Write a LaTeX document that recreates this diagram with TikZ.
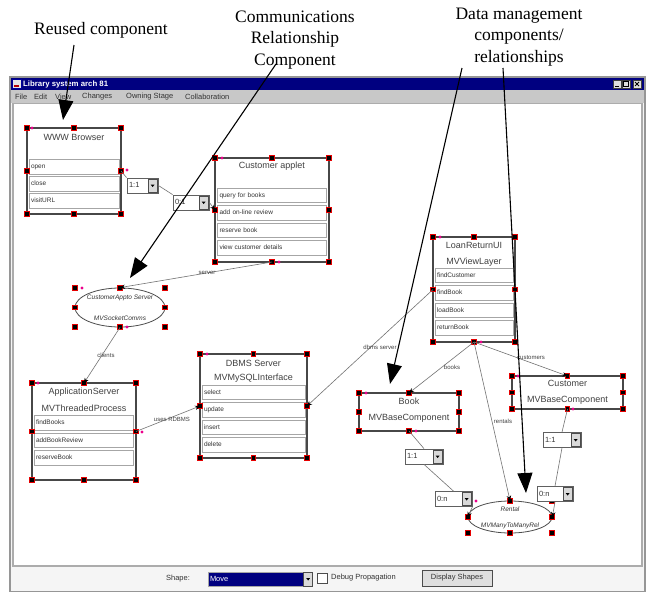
\documentclass[tikz,border=0pt]{standalone}
\usepackage{fontspec}
\setmainfont{Liberation Serif}
\setsansfont{Liberation Sans}
\usetikzlibrary{arrows.meta,shapes.geometric}
\definecolor{navy}{RGB}{0,0,128}
\definecolor{menugray}{RGB}{200,200,200}
\definecolor{framegray}{RGB}{150,150,150}
\newcommand\handles[1]{%
  \foreach \a [count=\i] in {north west,north,north east,west,east,south west,south,south east}
    \node[handle] (#1-h\i) at (#1.\a) {};}
\begin{document}
\begin{tikzpicture}[x=1pt,y=-1pt,
  comp/.style={rectangle, draw=black!72, line width=1.6pt, fill=white, inner sep=0pt, outer sep=0pt},
  ctitle/.style={font=\sffamily\fontsize{9}{10}\selectfont, text=black!75, inner sep=0pt},
  crow/.style={rectangle, draw=gray!70, line width=1pt, fill=white, inner xsep=2pt, inner ysep=0pt,
    outer sep=0pt, text width=#1, align=left, minimum height=14.5pt, text height=5pt, text depth=1.5pt,
    font=\sffamily\fontsize{6.5}{7}\selectfont, text=black!80},
  oval/.style={ellipse, draw=gray!60!black, line width=0.8pt, fill=white, inner sep=0pt},
  bbox/.style={rectangle, inner sep=0pt, outer sep=0pt},
  otext/.style={font=\sffamily\itshape\fontsize{6.5}{7}\selectfont, text=black!80, inner sep=0pt},
  handle/.style={rectangle, fill=black, draw=red!90!black, line width=0.9pt, minimum size=4.5pt, inner sep=0pt},
  magdot/.style={circle, fill=magenta, minimum size=3.2pt, inner sep=0pt},
  combo/.style={rectangle, draw=gray!75!black, line width=0.8pt, fill=white, inner xsep=2pt, inner ysep=0pt,
    minimum height=15pt, text width=#1, align=left, text height=5.5pt, text depth=1.5pt,
    font=\sffamily\fontsize{7.5}{8}\selectfont, text=black!80},
  cbtn/.style={rectangle, fill=gray!30, draw=gray!60!black, line width=0.5pt, minimum width=9pt,
    minimum height=13pt, inner sep=0pt, anchor=east},
  conn/.style={draw=black!55, line width=0.6pt},
  arr/.style={-{Stealth[length=5pt,width=4.5pt,black]}},
  clabel/.style={font=\sffamily\fontsize{6}{6}\selectfont, text=black!75, inner sep=0.5pt},
  anntext/.style={font=\fontsize{17.5}{21.5}\selectfont, align=center, inner sep=0pt},
  annarrow/.style={draw=black, line width=1.1pt, -{Triangle[length=20pt,width=15pt]}},
  menu/.style={font=\sffamily\fontsize{7.5}{7.5}\selectfont, text=black!80, inner sep=0pt, anchor=west},
  wbtn/.style={rectangle, fill=gray!25, draw=gray!50!black, line width=0.5pt, minimum width=8pt, minimum height=8pt, inner sep=0pt},
  guitext/.style={font=\sffamily\fontsize{7.5}{8}\selectfont, text=black!80, inner sep=0pt}
]
\useasboundingbox (0,0) rectangle (654,592);
\fill[white] (0,0) rectangle (654,592);

% ---------- application window ----------
\fill[gray!8] (10,77) rectangle (645,592);
\fill[white] (13,103) rectangle (642,566);
\draw[framegray, line width=1.4pt] (10,77) rectangle (645,592);
\draw[gray!65, line width=1.2pt] (13,103) rectangle (642,566);
\fill[navy] (11,77.5) rectangle (644,90);
\fill[menugray] (11,90) rectangle (644,103);

% title bar
\node[rectangle, fill=gray!20, draw=blue!60!black, line width=0.5pt, minimum size=9pt, inner sep=0pt] (icon) at (16.5,84) {};
\fill[red!70!black] (icon.center) ++(-2.5,0.5) rectangle ++(5,2.5);
\node[font=\sffamily\bfseries\fontsize{7.8}{8}\selectfont, text=white, inner sep=0pt, anchor=west] (wtitle) at (23,84) {Library system arch 81};
\node[wbtn] (bmin) at (617,84) {};
\node[wbtn] (bmax) at (626,84) {};
\node[wbtn] (bclose) at (637,84) {};
\draw[line width=1pt] ([shift={(-2,2)}]bmin.center) -- ([shift={(1.5,2)}]bmin.center);
\draw[line width=0.7pt] ([shift={(-2.3,-2.3)}]bmax.center) rectangle ([shift={(2.3,2.3)}]bmax.center);
\draw[line width=0.9pt] ([shift={(-2,-2)}]bclose.center) -- ([shift={(2,2)}]bclose.center)
  ([shift={(-2,2)}]bclose.center) -- ([shift={(2,-2)}]bclose.center);

% menu bar
\node[menu] (mfile) at (15,97) {File};
\node[menu] (medit) at (34,97) {Edit};
\node[menu] (mview) at (55,97) {View};
\node[menu] (mchanges) at (82,97) {Changes};
\node[menu] (mowning) at (126,97) {Owning Stage};
\node[menu] (mcollab) at (185,97) {Collaboration};

% bottom tool bar
\node[guitext] (shapelbl) at (178,579) {Shape:};
\node[rectangle, fill=navy, draw=gray!70, line width=0.8pt, minimum width=95pt, minimum height=14pt, inner xsep=2pt,
  text width=91pt, align=left, font=\sffamily\fontsize{7.5}{8}\selectfont, text=white] (movebox) at (255.5,579) {Move};
\node[cbtn, minimum height=14pt, anchor=west] (movebtn) at (movebox.east) {};
\fill (movebtn.center) ++(-2,-1) -- ++(4,0) -- ++(-2,2.5) -- cycle;
\node[rectangle, draw=gray!60!black, fill=white, line width=0.6pt, minimum size=10pt, inner sep=0pt] (dbgbox) at (322,578) {};
\node[guitext, anchor=west] (dbglbl) at (331,578) {Debug Propagation};
\node[rectangle, fill=gray!25, draw=gray!60!black, line width=0.6pt, minimum width=70pt, minimum height=16pt,
  inner sep=0pt, font=\sffamily\fontsize{7.5}{8}\selectfont, text=black!80] (dispbtn) at (457,578) {Display Shapes};

% ---------- WWW Browser ----------
\node[comp, minimum width=94pt, minimum height=86pt] (www) at (74,171) {};
\node[ctitle] (www-t) at (74,137) {WWW Browser};
\node[crow=86pt] (www-r1) at (74,167) {open};
\node[crow=86pt] (www-r2) at (74,184) {close};
\node[crow=86pt] (www-r3) at (74,201) {visitURL};
\handles{www}
\node[magdot] (www-m1) at (32,128) {};
\node[magdot] (www-m2) at (127,170) {};

% ---------- Customer applet ----------
\node[comp, minimum width=114pt, minimum height=104pt] (ca) at (272,210) {};
\node[ctitle] (ca-t) at (272,166) {Customer applet};
\node[crow=105pt] (ca-r1) at (272,195.5) {query for books};
\node[crow=105pt] (ca-r2) at (272,213) {add on-line review};
\node[crow=105pt] (ca-r3) at (272,230.5) {reserve book};
\node[crow=105pt] (ca-r4) at (272,248) {view customer details};
\handles{ca}
\node[magdot] (ca-m1) at (222,158) {};
\node[magdot] (ca-m2) at (279,262) {};

% ---------- CustomerAppto Server ----------
\node[oval, minimum width=90pt, minimum height=39pt] (cas) at (120,307.5) {};
\node[bbox, minimum width=90pt, minimum height=39pt] (casb) at (120,307.5) {};
\node[otext] (cas-t1) at (120,298) {CustomerAppto Server};
\node[otext] (cas-t2) at (120,318) {MVSocketComms};
\handles{casb}
\node[magdot] (cas-m1) at (82,288) {};
\node[magdot] (cas-m2) at (127,327) {};

% ---------- ApplicationServer ----------
\node[comp, minimum width=104pt, minimum height=97pt] (as) at (84,431.5) {};
\node[ctitle] (as-t1) at (84,392) {ApplicationServer};
\node[ctitle] (as-t2) at (84,408) {MVThreadedProcess};
\node[crow=95pt] (as-r1) at (83.5,423) {findBooks};
\node[crow=95pt] (as-r2) at (83.5,440.5) {addBookReview};
\node[crow=95pt] (as-r3) at (83.5,458) {reserveBook};
\handles{as}
\node[magdot] (as-m1) at (38,383) {};
\node[magdot] (as-m2) at (142,432) {};

% ---------- DBMS Server ----------
\node[comp, minimum width=107pt, minimum height=104pt] (db) at (253.5,406) {};
\node[ctitle] (db-t1) at (253.5,363) {DBMS Server};
\node[ctitle] (db-t2) at (253.5,378) {MVMySQLInterface};
\node[crow=99pt] (db-r1) at (253.5,392.5) {select};
\node[crow=99pt] (db-r2) at (253.5,410) {update};
\node[crow=99pt] (db-r3) at (253.5,427.5) {insert};
\node[crow=99pt] (db-r4) at (253.5,445) {delete};
\handles{db}
\node[magdot] (db-m1) at (207,354) {};

% ---------- LoanReturnUI ----------
\node[comp, minimum width=82pt, minimum height=105pt] (lr) at (474,289.5) {};
\node[ctitle] (lr-t1) at (474,245) {LoanReturnUI};
\node[ctitle] (lr-t2) at (474,262) {MVViewLayer};
\node[crow=74pt] (lr-r1) at (474,275.5) {findCustomer};
\node[crow=74pt] (lr-r2) at (474,293) {findBook};
\node[crow=74pt] (lr-r3) at (474,310.5) {loadBook};
\node[crow=74pt] (lr-r4) at (474,328) {returnBook};
\handles{lr}
\node[magdot] (lr-m1) at (440,237) {};
\node[magdot] (lr-m2) at (481,342) {};

% ---------- Book ----------
\node[comp, minimum width=100pt, minimum height=38pt] (book) at (409,412) {};
\node[ctitle] (book-t1) at (409,401) {Book};
\node[ctitle] (book-t2) at (409,418) {MVBaseComponent};
\handles{book}
\node[magdot] (book-m1) at (366,393) {};
\node[magdot] (book-m2) at (416,431) {};

% ---------- Customer ----------
\node[comp, minimum width=111pt, minimum height=33pt] (cust) at (567.5,392.5) {};
\node[ctitle] (cust-t1) at (567.5,383) {Customer};
\node[ctitle] (cust-t2) at (567.5,400) {MVBaseComponent};
\handles{cust}
\node[magdot] (cust-m1) at (518,376) {};
\node[magdot] (cust-m2) at (573,409) {};

% ---------- Rental ----------
\node[oval, minimum width=84pt, minimum height=32pt] (rent) at (510,517) {};
\node[bbox, minimum width=84pt, minimum height=32pt] (rentb) at (510,517) {};
\node[otext] (rent-t1) at (510,509) {Rental};
\node[otext] (rent-t2) at (510,526) {MVManyToManyRel};
\handles{rentb}
\node[magdot] (rent-m1) at (476,501) {};

% ---------- cardinality selectors ----------
\node[combo=27pt] (c1) at (142.5,185.5) {1:1};
\node[combo=32pt] (c2) at (191,202.5) {0:1};
\node[combo=34pt] (c3) at (424,456.5) {1:1};
\node[combo=33pt] (c4) at (453.5,499) {0:n};
\node[combo=34pt] (c5) at (562,440) {1:1};
\node[combo=32pt] (c6) at (555,494) {0:n};
\foreach \c in {c1,c2,c3,c4,c5,c6}{
  \node[cbtn] (\c-b) at ([xshift=-1pt]\c.east) {};
  \fill (\c-b.center) ++(-2,-1) -- ++(4,0) -- ++(-2,2.5) -- cycle;
}

% ---------- connectors ----------
\draw[conn] (www.east) -- (c1.north west);
\draw[conn] (c1.east) -- (c2.north west);
\draw[conn, arr] (c2.east) -- (ca.west);
\draw[conn, arr] (ca.south) -- (cas.north);
\node[clabel] (l-server) at (207,273) {server};
\draw[conn, arr] (cas.south) -- (as.north);
\node[clabel] (l-clients) at (106,355) {clients};
\draw[conn, arr] (as.east) -- (db.west);
\node[clabel] (l-uses) at (172,419) {uses RDBMS};
\draw[conn, arr] (lr.west) -- (db.east);
\node[clabel] (l-dbms) at (380,347) {dbms server};
\draw[conn, arr] (lr.south) -- (book.north);
\node[clabel] (l-books) at (452,367) {books};
\draw[conn, arr] (lr.south) -- (cust.north);
\node[clabel] (l-cust) at (531,358) {customers};
\draw[conn, arr] (lr.south) -- (rent.north);
\node[clabel] (l-rent) at (503,421) {rentals};
\draw[conn] (book.south) -- (c3.north);
\draw[conn] (c3.south) -- (c4.north);
\draw[conn, arr] (c4.south east) -- (rent.west);
\draw[conn] (cust.south) -- (c5.north);
\draw[conn] (c5.south) -- (c6.north);
\draw[conn, arr] (c6.south) -- (rent.east);

% ---------- annotations ----------
\node[anntext] (reused) at (101,30) {Reused component};
\node[anntext] (comm) at (295,40) {Communications\\Relationship\\Component};
\node[anntext] (datam) at (519,37) {Data management\\components/\\relationships};
\coordinate (a1s) at (74,45);
\coordinate (a1e) at (63,120);
\coordinate (a2s) at (276,64);
\coordinate (a2e) at (130,278);
\coordinate (a3s) at (462,68);
\coordinate (a3e) at (390,384);
\coordinate (a4s) at (503,68);
\coordinate (a4e) at (526,493);
\draw[annarrow] (a1s) -- (a1e);
\draw[annarrow] (a2s) -- (a2e);
\draw[annarrow] (a3s) -- (a3e);
\draw[annarrow] (a4s) -- (a4e);
\end{tikzpicture}
\end{document}
